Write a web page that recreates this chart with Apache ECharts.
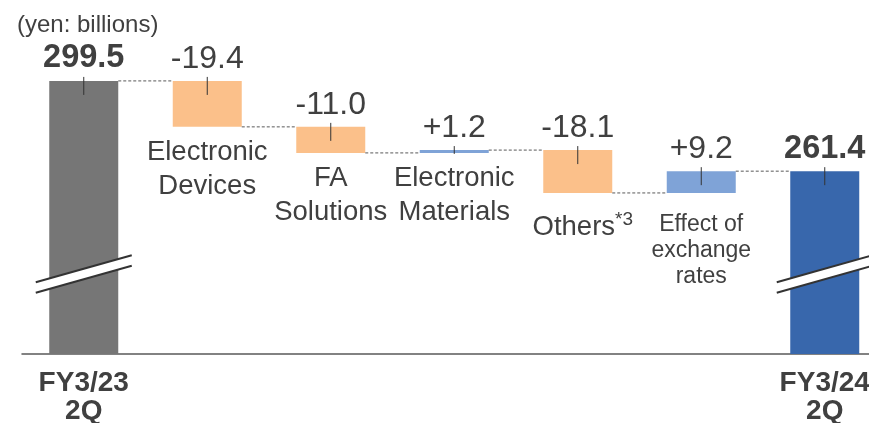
<!DOCTYPE html>
<html>
<head>
<meta charset="utf-8">
<script src="https://cdn.jsdelivr.net/npm/echarts@6/dist/echarts.min.js"></script>
<style>
  html, body { margin: 0; padding: 0; background: #fff; }
  #chart { width: 869px; height: 423px; }
</style>
</head>
<body>
<div id="chart"></div>
<script>
const categories = ['FY3/23\n2Q', 'Electronic\nDevices', 'FA\nSolutions', 'Electronic\nMaterials', 'Others', 'Effect of\nexchange\nrates', 'FY3/24\n2Q'];
const footnotes = ['', '', '', '', '*3', '', ''];
const startTotal = 299.5;
const endTotal = 261.4;
const changes = [-19.4, -11.0, 1.2, -18.1, 9.2];
const breakValue = 218;   // where the axis-break marks sit
const yMin = 184.2;
const yMax = 321;

const FONT = '"Liberation Sans", Arial, sans-serif';
const TEXT = '#404040';
const BAR_W = 69;
const DOWN = '#FBC08A';
const UP = '#7FA3D7';

// build waterfall pieces
const helper = ['-'];
const delta = ['-'];
const totals = [startTotal];
const levels = [startTotal];
const ticks = [[0, startTotal, yMin]];
let run = startTotal;
changes.forEach((c, i) => {
  const next = run + c;
  helper.push(Math.min(run, next));
  delta.push({ value: Math.abs(c), itemStyle: { color: c < 0 ? DOWN : UP } });
  totals.push('-');
  ticks.push([i + 1, Math.max(run, next), Math.min(run, next)]);
  run = next;
  levels.push(run);
});
helper.push('-');
delta.push('-');
totals.push(endTotal);
ticks.push([categories.length - 1, endTotal, yMin]);

const connectors = levels.map((v, i) => [i, v]);
const breaks = [[0, breakValue], [categories.length - 1, breakValue]];
const isTotal = i => i === 0 || i === categories.length - 1;

// per-category tweaks for the names under the bars
const nameLabel = {
  4: { distance: 17, offset: [5, 0] },
  5: { fontSize: 23, lineHeight: 26, distance: 19 }
};
const helperData = helper.map((v, i) => v === '-' ? v : { value: v, label: nameLabel[i] || {} });

const chart = echarts.init(document.getElementById('chart'));

chart.setOption({
  animation: false,
  textStyle: { fontFamily: FONT },
  title: {
    text: '(yen: billions)',
    left: 12,
    top: 8,
    textStyle: { fontSize: 24, fontWeight: 'normal', color: TEXT, fontFamily: FONT }
  },
  grid: { left: 22, top: 30, width: 864.5, bottom: 69, outerBoundsMode: 'none' },
  xAxis: {
    type: 'category',
    data: categories,
    axisLine: { lineStyle: { color: '#595959', width: 1.5 } },
    axisTick: { show: false },
    axisLabel: {
      interval: 0,
      margin: 15,
      fontSize: 28,
      lineHeight: 28,
      fontWeight: 'bold',
      color: TEXT,
      formatter: (v, i) => isTotal(i) ? v : ''
    }
  },
  yAxis: {
    type: 'value',
    min: yMin,
    max: yMax,
    show: false
  },
  series: [
    {
      name: 'base',
      type: 'bar',
      stack: 'w',
      barWidth: BAR_W,
      silent: true,
      itemStyle: { color: 'transparent' },
      label: {
        show: true,
        position: 'insideTop',
        distance: 9,
        color: TEXT,
        fontSize: 27.5,
        lineHeight: 34,
        formatter: p => categories[p.dataIndex] + (footnotes[p.dataIndex] ? '{sup|' + footnotes[p.dataIndex] + '}' : ''),
        rich: {
          sup: { fontSize: 19, verticalAlign: 'top', color: TEXT }
        }
      },
      data: helperData
    },
    {
      name: 'change',
      type: 'bar',
      stack: 'w',
      barWidth: BAR_W,
      silent: true,
      label: {
        show: true,
        position: 'top',
        distance: 6,
        color: TEXT,
        fontSize: 32,
        formatter: p => {
          const c = changes[p.dataIndex - 1];
          return (c > 0 ? '+' : '') + c.toFixed(1);
        }
      },
      data: delta
    },
    {
      name: 'total',
      type: 'bar',
      stack: 'w',
      barWidth: BAR_W,
      silent: true,
      itemStyle: {
        color: p => p.dataIndex === 0 ? '#767676' : '#3867AC'
      },
      label: {
        show: true,
        position: 'top',
        distance: 6,
        color: TEXT,
        fontSize: 32.5,
        fontWeight: 'bold',
        formatter: p => p.value.toFixed(1)
      },
      data: totals
    },
    {
      name: 'connectors',
      type: 'custom',
      silent: true,
      z: 4,
      data: connectors.slice(0, categories.length - 1),
      renderItem: (params, api) => {
        const a = api.coord([api.value(0), api.value(1)]);
        const b = api.coord([api.value(0) + 1, api.value(1)]);
        return {
          type: 'line',
          shape: { x1: a[0] + BAR_W / 2, y1: a[1], x2: b[0] - BAR_W / 2, y2: a[1] },
          style: { stroke: '#595959', lineWidth: 1, lineDash: [3, 2] }
        };
      }
    },
    {
      name: 'ticks',
      type: 'custom',
      silent: true,
      z: 5,
      data: ticks,
      renderItem: (params, api) => {
        const top = api.coord([api.value(0), api.value(1)]);
        const bot = api.coord([api.value(0), api.value(2)]);
        return {
          type: 'line',
          shape: { x1: top[0], y1: top[1] - 4, x2: top[0], y2: Math.min(top[1] + 14, bot[1] + 1) },
          style: { stroke: '#333', lineWidth: 1 }
        };
      }
    },
    {
      name: 'breaks',
      type: 'custom',
      silent: true,
      z: 6,
      data: breaks,
      renderItem: (params, api) => {
        const c = api.coord([api.value(0), api.value(1)]);
        const l = c[0] - 48, r = c[0] + 48, y = c[1];
        return {
          type: 'group',
          children: [
            {
              type: 'polygon',
              shape: { points: [[l, y + 8.25], [r, y - 18.75], [r, y - 8.25], [l, y + 18.75]] },
              style: { fill: '#fff' }
            },
            {
              type: 'line',
              shape: { x1: l, y1: y + 8.25, x2: r, y2: y - 18.75 },
              style: { stroke: '#333', lineWidth: 2 }
            },
            {
              type: 'line',
              shape: { x1: l, y1: y + 18.75, x2: r, y2: y - 8.25 },
              style: { stroke: '#333', lineWidth: 2 }
            }
          ]
        };
      }
    }
  ]
});
</script>
</body>
</html>
